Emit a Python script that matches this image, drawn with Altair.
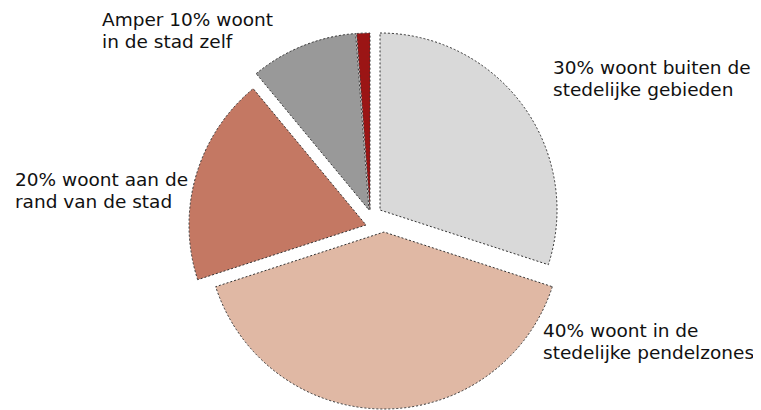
import altair as alt
import pandas as pd

# ---- data ----
categories = [
    "buiten de stedelijke gebieden",
    "stedelijke pendelzones",
    "rand van de stad",
    "stad zelf",
    "overig",
]
values = [30, 40, 19, 9.8, 1.2]
label_texts = [
    "30% woont buiten de\nstedelijke gebieden",
    "40% woont in de\nstedelijke pendelzones",
    "20% woont aan de\nrand van de stad",
    "Amper 10% woont\nin de stad zelf",
]
colors = ["#d9d9d9", "#e0b8a4", "#c47863", "#999999", "#9b1515"]

# ---- layout / style constants (pixels) ----
W, H = 745, 394
CX, CY = 367, 212        # pie centre
RADIUS = 177
SLICE_DX = [5, 9, -9, -6, -5]     # explode offsets per slice
SLICE_DY = [-10, 12, 5, -10, -10]
LABEL_X = [545, 535, 7, 94]
LABEL_Y = [66, 329, 178, 18]
FONT = "DejaVu Sans"

pie_df = pd.DataFrame({"category": categories, "value": values,
                       "order": list(range(len(categories))),
                       "dx": SLICE_DX, "dy": SLICE_DY})
lab_df = pd.DataFrame({"label": label_texts, "lx": LABEL_X, "ly": LABEL_Y})

pie = (
    alt.Chart(pie_df)
    .transform_window(cum="sum(value)", sort=[alt.SortField("order")],
                      frame=[None, 0])
    .transform_joinaggregate(total="sum(value)")
    .transform_calculate(
        t0="(datum.cum - datum.value) / datum.total * 2 * PI",
        t1="datum.cum / datum.total * 2 * PI",
        px=f"{CX} + datum.dx",
        py=f"{CY} + datum.dy",
    )
    .mark_arc(radius=RADIUS, stroke="#333333", strokeWidth=1,
              strokeDash=[2, 2])
    .encode(
        theta=alt.Theta("t0:Q", scale=None),
        theta2="t1:Q",
        x=alt.X("px:Q", scale=None, axis=None),
        y=alt.Y("py:Q", scale=None, axis=None),
        color=alt.Color("category:N",
                        scale=alt.Scale(domain=categories, range=colors),
                        legend=None),
    )
)

labels = (
    alt.Chart(lab_df)
    .mark_text(align="left", baseline="alphabetic", font=FONT, fontSize=18.5,
               lineBreak="\n", lineHeight=21.5, color="#111111")
    .encode(
        x=alt.X("lx:Q", scale=None, axis=None),
        y=alt.Y("ly:Q", scale=None, axis=None),
        text="label:N",
    )
)

chart = (
    alt.layer(pie, labels)
    .properties(width=W, height=H,
                padding={"left": 0, "top": 0, "right": 0, "bottom": 8},
                autosize=alt.AutoSizeParams(type="none"))
    .configure_view(stroke=None, strokeWidth=0)
)

chart.save("out.html", embed_options={"renderer": "svg", "actions": False})
